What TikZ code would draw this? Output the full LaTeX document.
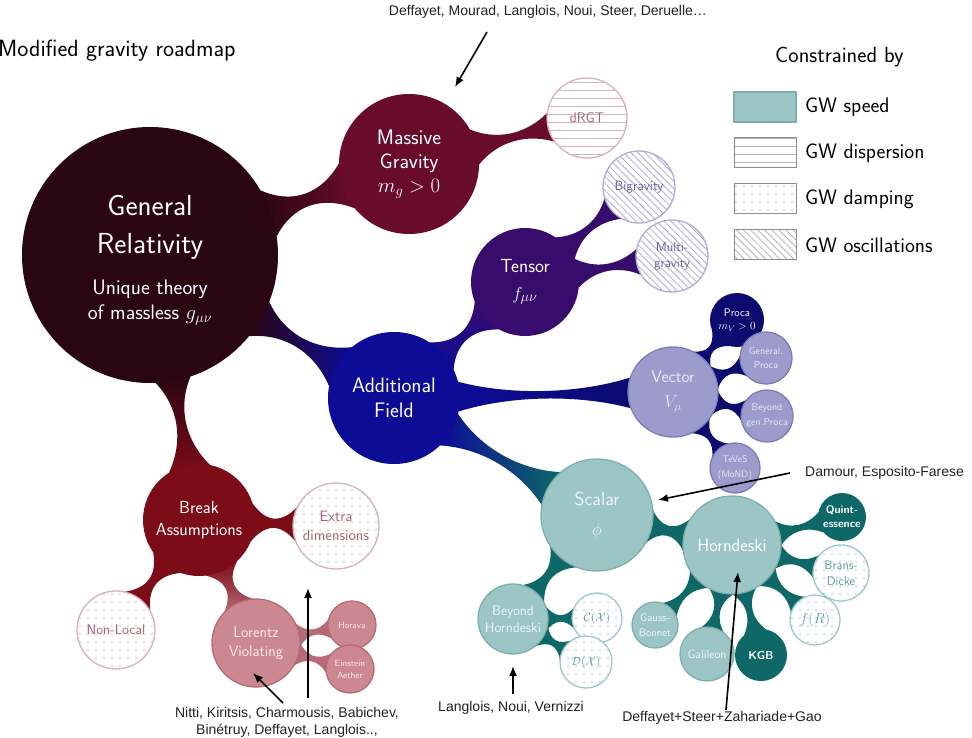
\documentclass[tikz,border=0pt]{standalone}
\usepackage{fontspec}
\newfontfamily\annfont{Liberation Sans}
\usetikzlibrary{calc,backgrounds,patterns.meta,arrows.meta}
\definecolor{grc}{HTML}{2A0612}
\definecolor{mgc}{HTML}{690C2C}
\definecolor{tenc}{HTML}{380C6C}
\definecolor{afc}{HTML}{0C0C96}
\definecolor{navyc}{HTML}{0B0B70}
\definecolor{vecc}{HTML}{9C9CCC}
\definecolor{vecb}{HTML}{7C7CB6}
\definecolor{vect}{HTML}{E8E8F6}
\definecolor{scac}{HTML}{9CC6C6}
\definecolor{scab}{HTML}{7EAEAE}
\definecolor{scat}{HTML}{EEF6F6}
\definecolor{tealc}{HTML}{0E6868}
\definecolor{brc}{HTML}{7C0C18}
\definecolor{lvc}{HTML}{CC8890}
\definecolor{lvb}{HTML}{B66A76}
\definecolor{lvt}{HTML}{FAE8EA}
\definecolor{pinkl}{HTML}{D8B2B8}
\definecolor{pinkt}{HTML}{A8606E}
\definecolor{lavl}{HTML}{B0ACD2}
\definecolor{lavt}{HTML}{6C60A0}
\definecolor{teall}{HTML}{9CC8C8}
\definecolor{tealt}{HTML}{5C9A9A}
\definecolor{drgtt}{HTML}{9C6878}
\definecolor{anntc}{HTML}{222222}
\definecolor{legl}{HTML}{B4B4B4}
\definecolor{legb}{HTML}{8C8C8C}

\newcommand\sz[2]{\sffamily\fontsize{#1}{#2}\selectfont}

% metaball-like neck between two circles
% #1 A, #2 rA, #3 angle at A, #4 B, #5 rB, #6 angle at B, #7 waist offset, #8 style
\newcommand\neck[8]{%
  \coordinate (nea) at ($(#1.center)!#2pt!(#4.center)$);
  \coordinate (neb) at ($(#4.center)!#5pt!(#1.center)$);
  \coordinate (nca) at ($(nea)!0.3!(neb)$);
  \coordinate (ncb) at ($(nea)!0.7!(neb)$);
  \path[#8] ($(#1.center)!#2pt!#3:(#4.center)$)
    .. controls ($(nca)!#7pt!90:(neb)$) and ($(ncb)!#7pt!-90:(nea)$) ..
    ($(#4.center)!#5pt!-#6:(#1.center)$)
    -- ($(#4.center)!#5pt!#6:(#1.center)$)
    .. controls ($(ncb)!#7pt!90:(nea)$) and ($(nca)!#7pt!-90:(neb)$) ..
    ($(#1.center)!#2pt!-#3:(#4.center)$) -- cycle;
}

\tikzset{
  bub/.style={circle, inner sep=0pt, minimum size={2*#1pt}, align=center, font=\sffamily},
  edged/.style={draw=#1, line width=1.3pt},
  hatchH/.style={preaction={fill=white}, pattern={Lines[angle=0,distance=8pt,line width=0.8pt]}, pattern color=#1, draw=#1, line width=1.3pt},
  hatchD/.style={preaction={fill=white}, pattern={Lines[angle=-45,distance=5pt,line width=0.8pt]}, pattern color=#1, draw=#1, line width=1.3pt},
  dotsB/.style={preaction={fill=white}, pattern={Dots[distance=8pt,radius=0.8pt]}, pattern color=#1, draw=#1, line width=1.3pt},
  legbox/.style={minimum width=62pt, minimum height=30pt, inner sep=0pt},
  ann/.style={font=\annfont\fontsize{14}{17}\selectfont, text=anntc, align=center, inner sep=0pt},
  arr/.style={-{Latex[length=10pt,width=8pt]}, line width=1.6pt, black},
}

\begin{document}
\begin{tikzpicture}[x=1pt,y=-1pt]
\useasboundingbox (0,0) rectangle (972,738);

% ---------- title and legend ----------
\node[anchor=base west, inner sep=0pt, font=\sz{23.5}{28}] (title) at (-2,57) {Modified gravity roadmap};
\node[anchor=base west, inner sep=0pt, font=\sz{22}{26}] (cons) at (775,63) {Constrained by};

\node[legbox, fill=scac, draw=scab, line width=1.2pt] (lg1) at (765,107) {};
\node[legbox, hatchH=legl, draw=legb, line width=1pt] (lg2) at (765,152.5) {};
\node[legbox, dotsB=legl, draw=legb, line width=1pt] (lg3) at (765,198.5) {};
\node[legbox, hatchD=legl, draw=legb, line width=1pt] (lg4) at (765,245) {};
\node[anchor=base west, inner sep=0pt, font=\sz{21}{25}] (lt1) at (805,113) {GW speed};
\node[anchor=base west, inner sep=0pt, font=\sz{21}{25}] (lt2) at (805,159) {GW dispersion};
\node[anchor=base west, inner sep=0pt, font=\sz{21}{25}] (lt3) at (805,205) {GW damping};
\node[anchor=base west, inner sep=0pt, font=\sz{21}{25}] (lt4) at (805,252) {GW oscillations};

% ---------- bubbles ----------
\node[bub=128, fill=grc] (GR) at (150,255) {};
\node[font=\sz{29}{38}, text=white, align=center] (GRt) at (150,227) {General\\Relativity};
\node[font=\sz{21}{25}, text=white, align=center] (GRs) at (150,303) {Unique theory\\of massless $g_{\mu\nu}$};

\node[bub=70, fill=mgc, text=white, font=\sz{21}{24}] (MG) at (409,164) {Massive\\Gravity\\$m_g>0$};
\node[bub=40, hatchH=pinkl, text=drgtt, font=\sz{14}{16}] (dRGT) at (587,118) {dRGT};

\node[bub=54, fill=tenc, text=white, font=\sz{19}{27}] (TEN) at (525,282) {Tensor\\$f_{\mu\nu}$};
\node[bub=36, hatchD=lavl, text=lavt, font=\sz{13.5}{16}] (BIG) at (639,187) {Bigravity};
\node[bub=36, hatchD=lavl, text=lavt, font=\sz{13}{16}] (MUL) at (672,256) {Multi-\\gravity};

\node[bub=66, fill=afc, text=white, font=\sz{21}{25}] (AF) at (394,398) {Additional\\Field};

\node[bub=45, fill=vecc, edged=vecb, text=vect, font=\sz{17}{25}] (VEC) at (673,392) {Vector\\$V_\mu$};
\node[bub=27, fill=navyc, text=white, font=\sz{11}{13}] (PRO) at (737,320) {Proca\\$m_V>0$};
\node[bub=26, fill=vecc, edged=vecb, text=vect, font=\sz{10}{14}] (GPR) at (766,358) {General.\\Proca};
\node[bub=26, fill=vecc, edged=vecb, text=vect, font=\sz{10}{15}] (BPR) at (767,416) {Beyond\\gen.Proca};
\node[bub=25, fill=vecc, edged=vecb, text=vect, font=\sz{9.5}{15}] (TVS) at (735,468) {TeVeS\\(MoND)};

\node[bub=56, fill=scac, edged=scab, text=scat, font=\sz{19}{30}] (SCA) at (597,515) {Scalar\\$\phi$};
\node[bub=49, fill=scac, edged=scab, text=white, font=\sz{18}{22}] (HOR) at (732,545) {Horndeski};
\node[bub=24, fill=tealc, text=white, font=\sz{11}{14}] (QUI) at (842,517) {\bfseries Quint-\\\bfseries essence};
\node[bub=28, dotsB=teall, text=tealt, font=\sz{12.5}{16}] (BRD) at (841,573) {Brans-\\Dicke};
\node[bub=25, dotsB=teall, text=tealt, font=\sz{14}{16}] (FR) at (815,620) {$f(R)$};
\node[bub=26, fill=tealc, text=white, font=\sz{11.5}{14}] (KGB) at (761,655) {\bfseries KGB};
\node[bub=27, fill=scac, edged=scab, text=scat, font=\sz{12}{14}] (GAL) at (707,654) {Galileon};
\node[bub=23, fill=scac, edged=scab, text=scat, font=\sz{11}{15}] (GB) at (655,625) {Gauss-\\Bonnet};
\node[bub=35, fill=scac, edged=scab, text=scat, font=\sz{14}{17}] (BH) at (513,619) {Beyond\\Horndeski};
\node[bub=25, dotsB=teall, text=tealt, font=\sz{13}{16}] (CX) at (597,618) {$\mathcal{C}(\mathcal{X})$};
\node[bub=26, dotsB=teall, text=tealt, font=\sz{13}{16}] (DX) at (586,662) {$\mathcal{D}(\mathcal{X})$};

\node[bub=56, fill=brc, text=white, font=\sz{17.5}{22}] (BRK) at (199,520) {Break\\Assumptions};
\node[bub=43, dotsB=pinkl, text=pinkt, font=\sz{15}{19}] (EXT) at (336,526) {Extra\\dimensions};
\node[bub=39, dotsB=pinkl, text=pinkt, font=\sz{14}{16}] (NL) at (116,630) {Non-Local};
\node[bub=44, fill=lvc, edged=lvb, text=lvt, font=\sz{15.5}{19}] (LV) at (256,643) {Lorentz\\Violating};
\node[bub=24, fill=lvc, edged=lvb, text=lvt, font=\sz{9}{11}] (HOV) at (352,625) {Horava};
\node[bub=24, fill=lvc, edged=lvb, text=lvt, font=\sz{9}{12}] (EA) at (350,669) {Einstein\\Aether};

% ---------- annotations ----------
\node[ann] (a1) at (548,12) {Deffayet, Mourad, Langlois, Noui, Steer, Deruelle…};
\coordinate (a1s) at (487,32);
\coordinate (a1e) at (455,87);
\draw[arr] (a1s) -- (a1e);

\node[ann, anchor=west] (a2) at (805,473) {Damour, Esposito-Farese};
\coordinate (a2s) at (790,473);
\coordinate (a2e) at (658,500);
\draw[arr] (a2s) -- (a2e);

\node[ann] (a3) at (511,708) {Langlois, Noui, Vernizzi};
\coordinate (a3s) at (513,694);
\coordinate (a3e) at (513,666);
\draw[arr] (a3s) -- (a3e);

\node[ann] (a4) at (722,718) {Deffayet+Steer+Zahariade+Gao};
\coordinate (a4s) at (726,710);
\coordinate (a4e) at (738,572);
\draw[arr] (a4s) -- (a4e);

\node[ann] (a5) at (287,722) {Nitti, Kiritsis, Charmousis, Babichev,\\Binétruy, Deffayet, Langlois..,};
\coordinate (a5s) at (283,703);
\coordinate (a5e) at (253,673);
\draw[arr] (a5s) -- (a5e);
\coordinate (a6s) at (308,698);
\coordinate (a6e) at (308,588);
\draw[arr] (a6s) -- (a6e);

% ---------- necks ----------
\begin{pgfonlayer}{background}
\fill[white] (0,0) rectangle (972,738);
\neck{GR}{128}{11}{MG}{70}{20}{0.5}{left color=grc,right color=mgc}
\neck{MG}{70}{15}{dRGT}{40}{22}{0}{fill=mgc}
\neck{GR}{128}{9}{AF}{66}{20}{0}{left color=grc,right color=afc}
\neck{AF}{66}{16}{TEN}{54}{20}{0}{bottom color=afc,top color=tenc}
\neck{TEN}{54}{16}{BIG}{36}{22}{0}{fill=tenc}
\neck{TEN}{54}{16}{MUL}{36}{22}{0}{fill=tenc}
\neck{AF}{66}{13}{VEC}{45}{20}{0}{left color=afc,right color=navyc}
\neck{VEC}{45}{16}{PRO}{27}{26}{0}{fill=navyc}
\neck{VEC}{45}{16}{GPR}{26}{26}{0}{fill=navyc}
\neck{VEC}{45}{16}{BPR}{26}{26}{0}{fill=navyc}
\neck{VEC}{45}{16}{TVS}{25}{26}{0}{fill=navyc}
\neck{AF}{66}{16}{SCA}{56}{20}{0}{left color=afc,right color=tealc}
\neck{SCA}{56}{18}{HOR}{49}{20}{1}{fill=tealc}
\neck{SCA}{56}{18}{BH}{35}{24}{0.5}{fill=tealc}
\neck{BH}{35}{22}{CX}{25}{26}{0.3}{fill=tealc}
\neck{BH}{35}{22}{DX}{26}{26}{0.3}{fill=tealc}
\neck{HOR}{49}{15}{QUI}{24}{26}{0.3}{fill=tealc}
\neck{HOR}{49}{15}{BRD}{28}{26}{0.3}{fill=tealc}
\neck{HOR}{49}{15}{FR}{25}{26}{0.3}{fill=tealc}
\neck{HOR}{49}{15}{KGB}{26}{26}{0.3}{fill=tealc}
\neck{HOR}{49}{15}{GAL}{27}{26}{0.3}{fill=tealc}
\neck{HOR}{49}{15}{GB}{23}{26}{0.3}{fill=tealc}
\neck{GR}{128}{8}{BRK}{56}{22}{0}{top color=grc,bottom color=brc}
\neck{BRK}{56}{20}{EXT}{43}{25}{0}{fill=brc}
\neck{BRK}{56}{18}{NL}{39}{25}{0}{fill=brc}
\neck{BRK}{56}{18}{LV}{44}{22}{0.5}{top color=brc,bottom color=lvb}
\neck{LV}{44}{16}{HOV}{24}{26}{0}{fill=lvb}
\neck{LV}{44}{16}{EA}{24}{26}{0}{fill=lvb}
\end{pgfonlayer}
\end{tikzpicture}
\end{document}
